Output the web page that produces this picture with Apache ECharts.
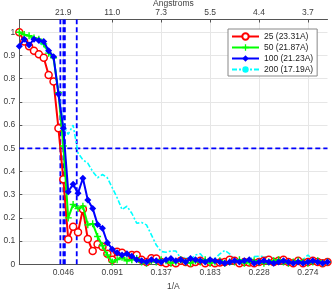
<!DOCTYPE html>
<html><head><meta charset="utf-8">
<script src="https://cdn.jsdelivr.net/npm/echarts@6/dist/echarts.min.js"></script>
<style>html,body{margin:0;padding:0;background:#fff}#c{width:332px;height:291px}</style>
</head><body><div id="c"></div>
<script>
// spatial frequency samples (1/A)
const freq = [0.004566,0.009132,0.013699,0.018265,0.022831,0.027397,0.031963,0.036530,0.041096,0.045662,
0.050228,0.054795,0.059361,0.063927,0.068493,0.073059,0.077626,0.082192,0.086758,0.091324,
0.095890,0.100457,0.105023,0.109589,0.114155,0.118721,0.123288,0.127854,0.132420,0.136986,
0.141553,0.146119,0.150685,0.155251,0.159817,0.164384,0.168950,0.173516,0.178082,0.182648,
0.187215,0.191781,0.196347,0.200913,0.205479,0.210046,0.214612,0.219178,0.223744,0.228311,
0.232877,0.237443,0.242009,0.246575,0.251142,0.255708,0.260274,0.264840,0.269406,0.273973,
0.278539,0.283105,0.287671,0.292237];
const s25 = [1.0,0.96,0.94,0.92,0.905,0.89,0.816,0.788,0.586,0.366,
0.108,0.162,0.138,0.237,0.109,0.057,0.086,0.076,0.045,0.02,
0.054,0.05,0.035,0.04,0.04,0.02,0.01,0.026,0.025,0.01,
0.005,0.01,0.005,0.015,0.01,0.005,0.01,0.015,0.005,0.01,
0.005,0.008,0.01,0.02,0.015,0.005,0.01,0.008,0.005,0.01,
0.015,0.02,0.01,0.015,0.02,0.01,0.005,0.015,0.005,0.01,
0.015,0.01,0.005,0.01];
const s50 = [1.0,0.99,0.985,0.975,0.97,0.95,0.91,0.89,0.74,0.51,
0.2,0.258,0.24,0.25,0.17,0.175,0.12,0.08,0.04,0.01,
0.02,0.03,0.015,0.02,0.025,0.01,0.005,0.015,0.01,0.02,
0.015,0.005,0.01,0.02,0.01,0.005,0.015,0.01,0.02,0.005,
0.01,0.015,0.005,0.01,0.01,0.02,0.005,0.01,0.015,0.01,
0.005,0.01,0.015,0.02,0.01,0.005,0.01,0.015,0.01,0.005,
0.01,0.015,0.005,0.01];
const s100 = [0.94,0.97,0.945,0.97,0.965,0.96,0.92,0.895,0.734,0.586,
0.313,0.345,0.306,0.371,0.277,0.241,0.172,0.155,0.093,0.065,
0.05,0.04,0.045,0.035,0.02,0.015,0.01,0.02,0.015,0.01,
0.02,0.025,0.015,0.02,0.01,0.025,0.02,0.015,0.01,0.02,
0.015,0.01,0.005,0.01,0.015,0.01,0.015,0.02,0.005,0.01,
0.015,0.01,0.005,0.01,0.015,0.01,0.005,0.01,0.005,0.01,
0.015,0.01,0.005,0.01];
const s200 = [1.0,0.99,0.985,0.975,0.96,0.94,0.91,0.9,0.75,0.6,
0.56,0.6,0.48,0.45,0.436,0.4,0.373,0.387,0.373,0.33,
0.287,0.236,0.25,0.22,0.177,0.18,0.17,0.127,0.083,0.055,
0.052,0.057,0.057,0.026,0.03,0.02,0.04,0.045,0.02,0.02,
0.025,0.045,0.06,0.045,0.02,0.01,0.01,0.02,0.033,0.035,
0.033,0.03,0.025,0.015,0.01,0.01,0.012,0.015,0.02,0.04,
0.02,0.005,0.01,0.01];
const seriesNames = ['25 (23.31A)','50 (21.87A)','100 (21.23A)','200 (17.19A)'];
const resolutionsA = [23.31, 21.87, 21.23, 17.19];
const fscThreshold = 0.5;
const tickValues = [0.045662,0.091324,0.136986,0.182648,0.228311,0.273973];
const freqTickLabels = ['0.046','0.091','0.137','0.183','0.228','0.274'];
const angTickLabels = ['21.9','11.0','7.3','5.5','4.4','3.7'];
const xMin = 0.004566, xMax = 0.292237, yMin = 0, yMax = 1.055;

const font = 'Liberation Sans';
const labelColor = '#404040';
function pairs(ys){ return ys.map((y,i)=>[freq[i], y]); }
function lookup(arr){ return v => { let best=0,bd=1e9; tickValues.forEach((t,i)=>{const d=Math.abs(t-v); if(d<bd){bd=d;best=i;}}); return bd<1e-4?arr[best]:''; }; }
const plusPath = 'path://M4,0 L6,0 L6,4 L10,4 L10,6 L6,6 L6,10 L4,10 L4,6 L0,6 L0,4 L4,4 Z';
const dashStyle = {color:'#0000ff', type:[5,3], width:1.8};

const chart = echarts.init(document.getElementById('c'), null, {renderer:'canvas'});
const xCommon = {
  type:'value', min:xMin, max:xMax,
  axisLine:{show:true, onZero:false, lineStyle:{color:'#555', width:1}},
  axisTick:{show:true, inside:true, length:3, customValues:tickValues, lineStyle:{color:'#555'}},
  splitLine:{show:true, lineStyle:{color:'#e6e6e6', width:1}},
  nameMoveOverlap:false,
  nameTextStyle:{fontFamily:font, fontSize:8.5, color:labelColor}
};
const refSeries = resolutionsA.map(a=>({
  type:'line', name:'_v'+a, data:[[1/a, yMin],[1/a, yMax]], z:1, silent:true,
  symbol:'none', lineStyle:dashStyle
})).concat([{
  type:'line', name:'_h', data:[[xMin, fscThreshold],[xMax, fscThreshold]], z:1, silent:true,
  symbol:'none', lineStyle:dashStyle
}]);
chart.setOption({
  animation:false,
  backgroundColor:'#fff',
  grid:{left:19.3, right:4.5, top:19.5, bottom:26.7, containLabel:false, outerBoundsMode:'none'},
  legend:{
    orient:'vertical', left:228, top:29,
    data:seriesNames,
    backgroundColor:'#fff', borderColor:'#888', borderWidth:1,
    padding:[3,4,2,3], itemGap:2, itemWidth:27, itemHeight:8,
    textStyle:{fontFamily:font, fontSize:8.5, color:'#222'}
  },
  xAxis:[
    Object.assign({}, xCommon, {
      position:'bottom', name:'1/A', nameLocation:'middle', nameGap:18,
      axisLabel:{customValues:tickValues, formatter:lookup(freqTickLabels), fontFamily:font, fontSize:8.5, color:labelColor, margin:4}
    }),
    Object.assign({}, xCommon, {
      position:'top', name:'Angstroms', nameLocation:'middle', nameGap:11,
      splitLine:{show:false},
      axisLabel:{customValues:tickValues, formatter:lookup(angTickLabels), fontFamily:font, fontSize:8.5, color:labelColor, margin:2}
    })
  ],
  yAxis:{
    type:'value', min:yMin, max:yMax, interval:0.1,
    axisLine:{show:true, lineStyle:{color:'#555', width:1}},
    axisTick:{show:true, inside:true, length:3, lineStyle:{color:'#555'}},
    splitLine:{show:true, lineStyle:{color:'#e6e6e6', width:1}},
    axisLabel:{showMaxLabel:false, fontFamily:font, fontSize:8.5, color:labelColor, margin:4,
      formatter:v=> (Math.abs(v)<1e-9?'0':(Math.abs(v-1)<1e-9?'1':(Math.abs(v*10-Math.round(v*10))<1e-6?v.toFixed(1):'')))}
  },
  series: refSeries.concat([
    {type:'line', name:seriesNames[0], data:pairs(s25), z:3,
      lineStyle:{color:'#ff0000', width:2}, itemStyle:{color:'#fff', borderColor:'#ff0000', borderWidth:1.5},
      symbol:'circle', symbolSize:7, showAllSymbol:true},
    {type:'line', name:seriesNames[1], data:pairs(s50), z:4,
      lineStyle:{color:'#00ff00', width:2}, itemStyle:{color:'#00ff00', borderWidth:0},
      symbol:plusPath, symbolSize:7, showAllSymbol:true},
    {type:'line', name:seriesNames[2], data:pairs(s100), z:5,
      lineStyle:{color:'#0000ff', width:2}, itemStyle:{color:'#0000ff', borderWidth:0},
      symbol:'diamond', symbolSize:7, showAllSymbol:true},
    {type:'line', name:seriesNames[3], data:pairs(s200), z:2,
      lineStyle:{color:'#00ffff', width:1.6, type:[5,2,2,2]}, itemStyle:{color:'#00ffff'},
      symbol:'none', showSymbol:false}
  ])
});
</script></body></html>
